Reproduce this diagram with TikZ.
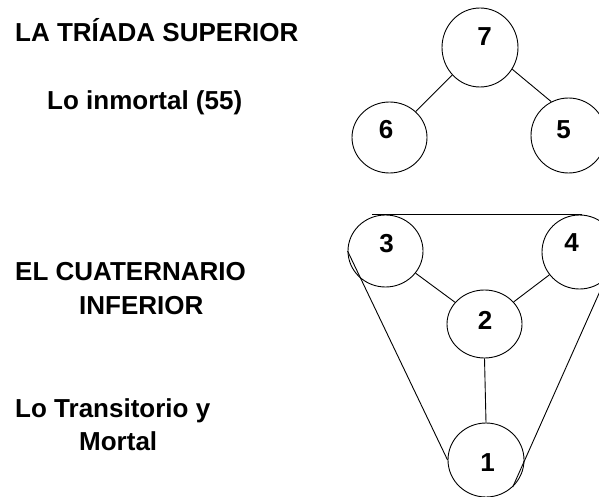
\documentclass[tikz,border=0pt]{standalone}
\usepackage{fontspec}
\setmainfont{Liberation Sans}
\usetikzlibrary{shapes.geometric}
\begin{document}
\begin{tikzpicture}[x=1pt,y=-1pt,
  ring/.style={draw,ellipse,inner sep=0pt,line width=0.9pt},
  num/.style={inner sep=0pt,font=\fontsize{26}{28}\selectfont\bfseries},
  txt/.style={inner sep=0pt,anchor=base west,font=\fontsize{26}{28}\selectfont\bfseries},
  link/.style={line width=0.9pt}]
\useasboundingbox (0,0) rectangle (599,497);
\clip (0,0) rectangle (599,497);
% text
\node[txt] (t1) at (15,42) {LA TRÍADA SUPERIOR};
\node[txt] (t2) at (47,110) {Lo inmortal (55)};
\node[txt] (t3) at (15,280) {EL CUATERNARIO};
\node[txt] (t4) at (79,314) {INFERIOR};
\node[txt] (t5) at (15,417) {Lo Transitorio y};
\node[txt] (t6) at (79,450) {Mortal};
% circles
\node[ring,minimum width=76pt,minimum height=79pt] (c7) at (480,47.5) {};
\node[ring,minimum width=75pt,minimum height=71pt] (c6) at (389.5,137.5) {};
\node[ring,minimum width=75pt,minimum height=75pt] (c5) at (568.5,135.5) {};
\node[ring,minimum width=75pt,minimum height=72pt] (c3) at (385.5,251) {};
\node[ring,minimum width=75pt,minimum height=74pt] (c4) at (579.5,252) {};
\node[ring,minimum width=75pt,minimum height=68pt] (c2) at (484.5,324) {};
\node[ring,minimum width=76pt,minimum height=74pt] (c1) at (486,460) {};
% digits
\node[num] (n7) at (484.5,37) {7};
\node[num] (n6) at (386,130) {6};
\node[num] (n5) at (563.5,130) {5};
\node[num] (n3) at (386.5,243.5) {3};
\node[num] (n4) at (571.5,243) {4};
\node[num] (n2) at (485,320) {2};
\node[num] (n1) at (487.5,463) {1};
% connectors
\draw[link] (c7) -- (c6);
\draw[link] (c7.326) -- (c5.117);
\draw[link] (c3) -- (c2);
\draw[link] (c4) -- (c2);
\draw[link] (c2.south) -- (c1.north);
\draw[link] ([xshift=-13.5pt]c3.north) -- ([xshift=2.5pt]c4.north);
\draw[link] (c3.west) -- (c1.west);
\draw[link] (c4.east) -- (c1.-45);
\end{tikzpicture}
\end{document}
